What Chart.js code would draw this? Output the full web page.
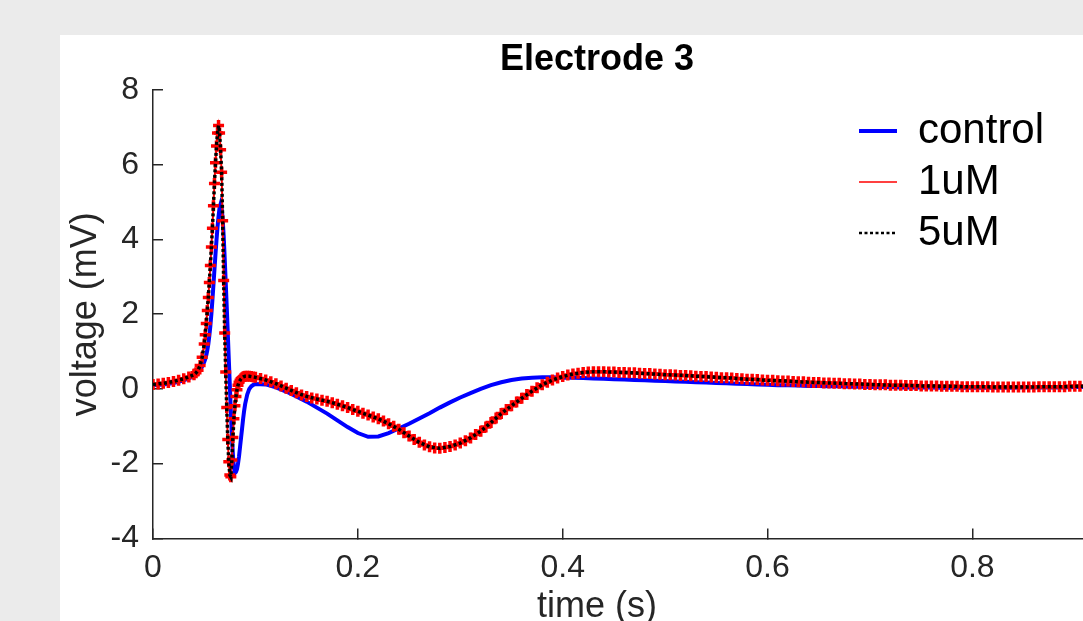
<!DOCTYPE html>
<html>
<head>
<meta charset="utf-8">
<title>Electrode 3</title>
<script src="https://cdn.jsdelivr.net/npm/chart.js@4.4.1/dist/chart.umd.min.js"></script>
<style>
  html, body { margin: 0; padding: 0; background: #ebebeb; overflow: hidden; width: 1083px; height: 621px; }
  #panel { position: absolute; left: 60px; top: 35px; width: 1074px; height: 600px; background: #fff; }
</style>
</head>
<body>
<div id="panel"><canvas id="electrode-chart" width="1074" height="600"></canvas></div>
<script>
// tick labels
const xTickValues = [0, 0.2, 0.4, 0.6, 0.8];
const yTickValues = [-4, -2, 0, 2, 4, 6, 8];

// sample times (s)
const spikeTimes = [0.042, 0.044, 0.046, 0.048,
  0.050, 0.051, 0.052, 0.053, 0.054, 0.055, 0.056, 0.057, 0.058, 0.059,
  0.060, 0.061, 0.062, 0.063, 0.064, 0.065, 0.066, 0.067, 0.068, 0.069,
  0.070, 0.071, 0.072, 0.073, 0.074, 0.075, 0.076, 0.077, 0.078, 0.079,
  0.080, 0.081, 0.082, 0.083, 0.084, 0.085, 0.086, 0.087, 0.088, 0.089, 0.090,
  0.092, 0.094, 0.096, 0.098, 0.100];
const earlyCoarse = [0, 0.01, 0.02, 0.03, 0.04];
const tailCoarse = [0.11, 0.12, 0.13, 0.14, 0.15, 0.16, 0.17, 0.18, 0.19, 0.20,
  0.21, 0.22, 0.23, 0.24, 0.25, 0.26, 0.27, 0.28, 0.29, 0.30,
  0.31, 0.32, 0.33, 0.34, 0.35, 0.36, 0.37, 0.38, 0.39, 0.40,
  0.41, 0.42, 0.43, 0.44, 0.45, 0.46, 0.47, 0.48, 0.49, 0.50,
  0.51, 0.52, 0.53, 0.54, 0.55, 0.56, 0.57, 0.58, 0.59, 0.60,
  0.61, 0.62, 0.63, 0.64, 0.65, 0.66, 0.67, 0.68, 0.69, 0.70,
  0.71, 0.72, 0.73, 0.74, 0.75, 0.76, 0.77, 0.78, 0.79, 0.80,
  0.81, 0.82, 0.83, 0.84, 0.85, 0.86, 0.87, 0.88, 0.89, 0.90, 0.91];
const earlyFine = [0, 0.005, 0.01, 0.015, 0.02, 0.025, 0.03, 0.035, 0.04];
const tailFine = [0.105, 0.110, 0.115, 0.120, 0.125, 0.130, 0.135, 0.140, 0.145, 0.150,
  0.155, 0.160, 0.165, 0.170, 0.175, 0.180, 0.185, 0.190, 0.195, 0.200,
  0.205, 0.210, 0.215, 0.220, 0.225, 0.230, 0.235, 0.240, 0.245, 0.250,
  0.255, 0.260, 0.265, 0.270, 0.275, 0.280, 0.285, 0.290, 0.295, 0.300,
  0.305, 0.310, 0.315, 0.320, 0.325, 0.330, 0.335, 0.340, 0.345, 0.350,
  0.355, 0.360, 0.365, 0.370, 0.375, 0.380, 0.385, 0.390, 0.395, 0.400,
  0.405, 0.410, 0.415, 0.420, 0.425, 0.430, 0.435, 0.440, 0.445, 0.450,
  0.455, 0.460, 0.465, 0.470, 0.475, 0.480, 0.485, 0.490, 0.495, 0.500,
  0.505, 0.510, 0.515, 0.520, 0.525, 0.530, 0.535, 0.540, 0.545, 0.550,
  0.555, 0.560, 0.565, 0.570, 0.575, 0.580, 0.585, 0.590, 0.595, 0.600,
  0.605, 0.610, 0.615, 0.620, 0.625, 0.630, 0.635, 0.640, 0.645, 0.650,
  0.655, 0.660, 0.665, 0.670, 0.675, 0.680, 0.685, 0.690, 0.695, 0.700,
  0.705, 0.710, 0.715, 0.720, 0.725, 0.730, 0.735, 0.740, 0.745, 0.750,
  0.755, 0.760, 0.765, 0.770, 0.775, 0.780, 0.785, 0.790, 0.795, 0.800,
  0.805, 0.810, 0.815, 0.820, 0.825, 0.830, 0.835, 0.840, 0.845, 0.850,
  0.855, 0.860, 0.865, 0.870, 0.875, 0.880, 0.885, 0.890, 0.895, 0.900,
  0.905, 0.910];

// control (mV)
const controlEarly = [0.1, 0.12, 0.16, 0.23, 0.34];
const controlSpike = [0.39, 0.44, 0.51, 0.6,
  0.72, 0.8, 0.9, 1.03, 1.2, 1.42, 1.68, 2.0, 2.38, 2.78,
  3.2, 3.6, 3.98, 4.33, 4.62, 4.85, 4.95, 4.85, 4.55, 4.1,
  3.5, 2.85, 2.2, 1.5, 0.8, 0.1, -0.6, -1.25, -1.75, -2.1,
  -2.25, -2.22, -2.15, -2.0, -1.8, -1.55, -1.3, -1.05, -0.8, -0.58, -0.4,
  -0.15, 0.0, 0.07, 0.11, 0.13];
const controlTail = [0.12, 0.04, -0.07, -0.2, -0.34, -0.5, -0.66, -0.84, -1.02, -1.18,
  -1.28, -1.27, -1.18, -1.06, -0.93, -0.79, -0.65, -0.5, -0.36, -0.23,
  -0.11, 0.0, 0.1, 0.18, 0.24, 0.28, 0.3, 0.31, 0.31, 0.3,
  0.3, 0.29, 0.28, 0.27, 0.26, 0.25, 0.24, 0.23, 0.22, 0.21,
  0.2, 0.19, 0.18, 0.17, 0.16, 0.15, 0.14, 0.13, 0.12, 0.11,
  0.1, 0.1, 0.09, 0.08, 0.08, 0.07, 0.07, 0.06, 0.06, 0.05,
  0.05, 0.05, 0.04, 0.04, 0.04, 0.04, 0.03, 0.03, 0.03, 0.03,
  0.03, 0.03, 0.03, 0.03, 0.04, 0.04, 0.04, 0.04, 0.04, 0.05, 0.05];

// 1uM (mV)
const uM1Early = [0.12, 0.13, 0.15, 0.17, 0.2, 0.23, 0.27, 0.32, 0.38];
const uM1Spike = [0.43, 0.5, 0.63, 0.85,
  1.2, 1.45, 1.75, 2.1, 2.45, 2.85, 3.3, 3.8, 4.3, 4.9,
  5.5, 6.05, 6.5, 6.85, 7.05, 6.85, 6.4, 5.8, 4.5, 2.9,
  1.5, 0.45, -0.5, -1.35, -1.95, -2.3, -2.35, -1.9, -1.3, -0.8,
  -0.45, -0.2, -0.02, 0.1, 0.18, 0.23, 0.27, 0.3, 0.32, 0.33, 0.34,
  0.34, 0.34, 0.33, 0.32, 0.31];
const uM1Tail = [0.28, 0.24, 0.19, 0.14, 0.08, 0.02, -0.04, -0.1, -0.16, -0.2,
  -0.24, -0.27, -0.3, -0.33, -0.37, -0.41, -0.45, -0.5, -0.55, -0.6,
  -0.65, -0.7, -0.75, -0.8, -0.86, -0.93, -1.0, -1.08, -1.17, -1.26,
  -1.35, -1.43, -1.5, -1.55, -1.58, -1.59, -1.57, -1.54, -1.5, -1.45,
  -1.39, -1.31, -1.22, -1.13, -1.02, -0.9, -0.78, -0.66, -0.55, -0.45,
  -0.35, -0.25, -0.15, -0.06, 0.03, 0.11, 0.18, 0.24, 0.29, 0.33,
  0.37, 0.4, 0.42, 0.44, 0.45, 0.46, 0.46, 0.46, 0.45, 0.45,
  0.44, 0.44, 0.43, 0.43, 0.42, 0.41, 0.41, 0.4, 0.39, 0.38,
  0.38, 0.37, 0.36, 0.36, 0.35, 0.34, 0.33, 0.33, 0.32, 0.31,
  0.3, 0.3, 0.29, 0.28, 0.27, 0.26, 0.26, 0.25, 0.24, 0.23,
  0.23, 0.22, 0.21, 0.21, 0.2, 0.19, 0.19, 0.18, 0.17, 0.17,
  0.16, 0.16, 0.15, 0.15, 0.14, 0.14, 0.13, 0.13, 0.12, 0.12,
  0.11, 0.11, 0.11, 0.1, 0.1, 0.1, 0.09, 0.09, 0.09, 0.08,
  0.08, 0.08, 0.08, 0.07, 0.07, 0.07, 0.07, 0.06, 0.06, 0.06,
  0.06, 0.06, 0.06, 0.05, 0.05, 0.05, 0.05, 0.05, 0.05, 0.05,
  0.05, 0.05, 0.06, 0.06, 0.06, 0.06, 0.06, 0.06, 0.07, 0.07,
  0.07, 0.07];

// 5uM (mV)
const uM5Early = [0.12, 0.15, 0.2, 0.27, 0.38];
const uM5Spike = [0.43, 0.5, 0.63, 0.85,
  1.2, 1.45, 1.75, 2.1, 2.45, 2.85, 3.3, 3.8, 4.3, 4.9,
  5.5, 6.05, 6.5, 6.85, 7.05, 6.85, 6.4, 5.8, 4.5, 2.9,
  1.5, 0.45, -0.5, -1.35, -1.95, -2.3, -2.35, -1.9, -1.3, -0.8,
  -0.45, -0.2, -0.02, 0.1, 0.18, 0.23, 0.27, 0.3, 0.32, 0.33, 0.34,
  0.34, 0.34, 0.33, 0.32, 0.31];
const uM5Tail = [0.24, 0.14, 0.02, -0.1, -0.2, -0.27, -0.33, -0.41, -0.5, -0.6,
  -0.7, -0.8, -0.93, -1.08, -1.26, -1.43, -1.55, -1.59, -1.54, -1.45,
  -1.31, -1.13, -0.9, -0.66, -0.45, -0.25, -0.06, 0.11, 0.24, 0.33,
  0.4, 0.44, 0.46, 0.46, 0.45, 0.44, 0.43, 0.41, 0.4, 0.38,
  0.37, 0.36, 0.34, 0.33, 0.31, 0.3, 0.28, 0.26, 0.25, 0.23,
  0.22, 0.21, 0.19, 0.18, 0.17, 0.16, 0.15, 0.14, 0.13, 0.12,
  0.11, 0.1, 0.1, 0.09, 0.08, 0.08, 0.07, 0.07, 0.06, 0.06,
  0.06, 0.05, 0.05, 0.05, 0.05, 0.05, 0.06, 0.06, 0.06, 0.07, 0.07];

const timeCoarse = [...earlyCoarse, ...spikeTimes, ...tailCoarse];
const timeFine = [...earlyFine, ...spikeTimes, ...tailFine];
const control = [...controlEarly, ...controlSpike, ...controlTail];
const uM1 = [...uM1Early, ...uM1Spike, ...uM1Tail];
const uM5 = [...uM5Early, ...uM5Spike, ...uM5Tail];

const toPoints = (ts, vs) => ts.map((t, i) => ({ x: t, y: vs[i] }));

const axisColor = "#262626";
const legendLineWidths = [4, 1.5, 2.5];

Chart.defaults.font.family = '"Liberation Sans", Arial, Helvetica, sans-serif';

// MATLAB-style legend sits inside the axes, top right
const legendPlacer = {
    id: "legendPlacer",
    beforeDraw(chart) {
        const lg = chart.legend;
        lg.left = 790;
        lg.right = lg.left + lg.width;
        lg.top = 66;
        lg.bottom = lg.top + lg.height;
    },
};

const ctx = document.getElementById("electrode-chart").getContext("2d");
new Chart(ctx, {
    type: "line",
    data: {
        datasets: [
            {
                label: "control",
                data: toPoints(timeCoarse, control),
                borderColor: "#0000ff",
                backgroundColor: "#0000ff",
                borderWidth: 4,
                pointRadius: 0,
                order: 3,
            },
            {
                label: "1uM",
                data: toPoints(timeFine, uM1),
                borderColor: "#ff0000",
                backgroundColor: "#ff0000",
                borderWidth: 2,
                pointStyle: "cross",
                pointRadius: 5.5,
                pointBorderColor: "#ff0000",
                pointBorderWidth: 3.5,
                order: 2,
            },
            {
                label: "5uM",
                data: toPoints(timeCoarse, uM5),
                borderColor: "#000000",
                backgroundColor: "#000000",
                borderWidth: 3.5,
                borderDash: [3, 2.5],
                pointRadius: 0,
                order: 1,
            },
        ],
    },
    options: {
        responsive: false,
        devicePixelRatio: 1,
        animation: false,
        events: [],
        layout: { padding: 0 },
        elements: { line: { tension: 0 } },
        scales: {
            x: {
                type: "linear",
                min: 0,
                max: 0.949,
                afterBuildTicks: (axis) => {
                    axis.ticks = xTickValues.map((v) => ({ value: v }));
                },
                afterFit: (scale) => {
                    scale.height = 47;
                },
                ticks: {
                    autoSkip: false,
                    maxRotation: 0,
                    padding: 21,
                    color: axisColor,
                    font: { size: 32 },
                    callback: (v) => String(v),
                },
                grid: {
                    drawOnChartArea: false,
                    drawTicks: true,
                    tickLength: -10,
                    color: axisColor,
                    lineWidth: 1.5,
                },
                border: { color: axisColor, width: 1.5 },
            },
            y: {
                min: -4,
                max: 8,
                afterBuildTicks: (axis) => {
                    axis.ticks = yTickValues.map((v) => ({ value: v }));
                },
                afterFit: (scale) => {
                    scale.width = 93;
                },
                ticks: {
                    padding: 24,
                    color: axisColor,
                    font: { size: 32 },
                    callback: (v) => String(v),
                },
                grid: {
                    drawOnChartArea: false,
                    drawTicks: true,
                    tickLength: -10,
                    color: axisColor,
                    lineWidth: 1.5,
                },
                border: { color: axisColor, width: 1.5 },
                title: {
                    display: true,
                    text: "voltage (mV)",
                    color: axisColor,
                    font: { size: 36 },
                    padding: { top: 4.4, bottom: 0 },
                },
            },
        },
        plugins: {
            title: {
                display: true,
                text: "Electrode 3",
                color: "#000000",
                font: { size: 36, weight: "bold" },
                padding: { top: 3.4, bottom: 8.4 },
            },
            subtitle: {
                display: true,
                text: "time (s)",
                position: "bottom",
                color: axisColor,
                font: { size: 36 },
                padding: { top: 0, bottom: 6.4 },
            },
            legend: {
                position: "chartArea",
                align: "start",
                labels: {
                    usePointStyle: true,
                    pointStyleWidth: 38,
                    padding: 9,
                    color: "#000000",
                    font: { size: 42 },
                    generateLabels: (chart) =>
                        chart.data.datasets.map((ds, i) => ({
                            text: ds.label,
                            fillStyle: ds.borderColor,
                            strokeStyle: ds.borderColor,
                            fontColor: "#000000",
                            lineWidth: legendLineWidths[i],
                            lineDash: ds.borderDash || [],
                            pointStyle: "line",
                            hidden: false,
                            datasetIndex: i,
                        })),
                },
            },
            tooltip: { enabled: false },
        },
    },
    plugins: [legendPlacer],
});
</script>
</body>
</html>
